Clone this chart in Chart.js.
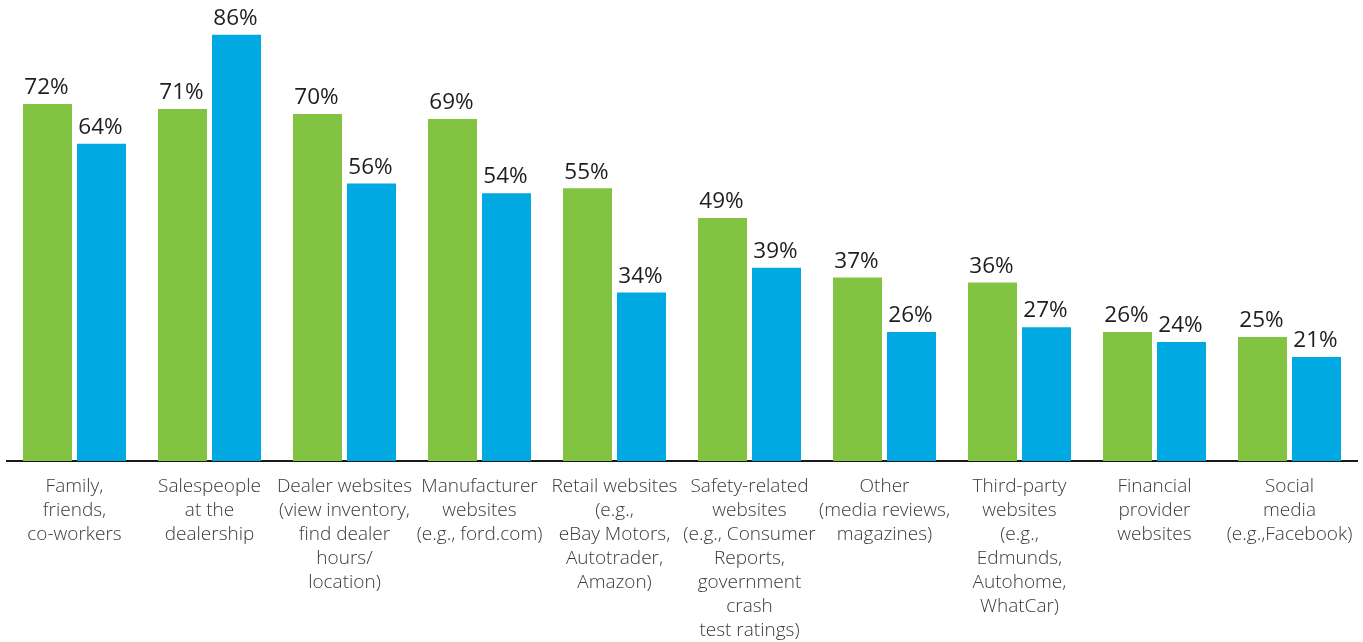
<!DOCTYPE html>
<html>
<head>
<meta charset="utf-8">
<script src="https://cdn.jsdelivr.net/npm/chart.js@4/dist/chart.umd.min.js"></script>
<style>
  body { margin: 0; background: #fff; }
  #wrap { width: 1363px; height: 642px; }
</style>
</head>
<body>
<div id="wrap"><canvas id="chart-area" width="1363" height="642"></canvas></div>
<script>
var categories = [
  ['Family,', 'friends,', 'co-workers'],
  ['Salespeople', 'at the', 'dealership'],
  ['Dealer websites', '(view inventory,', 'find dealer', 'hours/', 'location)'],
  ['Manufacturer', 'websites', '(e.g., ford.com)'],
  ['Retail websites', '(e.g.,', 'eBay Motors,', 'Autotrader,', 'Amazon)'],
  ['Safety-related', 'websites', '(e.g., Consumer', 'Reports,', 'government', 'crash', 'test ratings)'],
  ['Other', '(media reviews,', 'magazines)'],
  ['Third-party', 'websites', '(e.g.,', 'Edmunds,', 'Autohome,', 'WhatCar)'],
  ['Financial', 'provider', 'websites'],
  ['Social', 'media', '(e.g.,Facebook)']
];
var greenValues = [72, 71, 70, 69, 55, 49, 37, 36, 26, 25];
var blueValues = [64, 86, 56, 54, 34, 39, 26, 27, 24, 21];

// percentage labels above every bar
var valueLabels = {
  id: 'valueLabels',
  afterDatasetsDraw: function(chart) {
    var ctx = chart.ctx;
    ctx.save();
    ctx.font = '22.5px "Open Sans"';
    ctx.fillStyle = '#1e1e1e';
    ctx.textAlign = 'center';
    ctx.textBaseline = 'bottom';
    chart.data.datasets.forEach(function(ds, i) {
      chart.getDatasetMeta(i).data.forEach(function(bar, j) {
        ctx.fillText(ds.data[j] + '%', bar.x - 1, bar.y - 5);
      });
    });
    ctx.restore();
  }
};

window.onload = function() {
  var ctx = document.getElementById('chart-area').getContext('2d');
  var config = {
    type: 'bar',
    data: {
      labels: categories,
      datasets: [{
        data: greenValues,
        backgroundColor: '#82c341',
        categoryPercentage: 0.8,
        barPercentage: 0.907
      }, {
        data: blueValues,
        backgroundColor: '#00a9e2',
        categoryPercentage: 0.8,
        barPercentage: 0.907
      }]
    },
    options: {
      responsive: false,
      animation: false,
      layout: { padding: { left: 7, right: 6, top: 0, bottom: 0 } },
      plugins: {
        legend: { display: false },
        tooltip: { enabled: false }
      },
      scales: {
        y: { display: false, min: 0, max: 93 },
        x: {
          grid: { display: false },
          border: { display: true, color: '#1a1a1a', width: 2 },
          ticks: {
            autoSkip: false,
            maxRotation: 0,
            padding: 6,
            color: '#3a3a3a',
            font: { family: 'Open Sans', size: 19, weight: 300, lineHeight: 1.26 }
          },
          afterFit: function(scale) { scale.height = 181; }
        }
      }
    },
    plugins: [valueLabels]
  };
  window.myBar = new Chart(ctx, config);
};
</script>
</body>
</html>
